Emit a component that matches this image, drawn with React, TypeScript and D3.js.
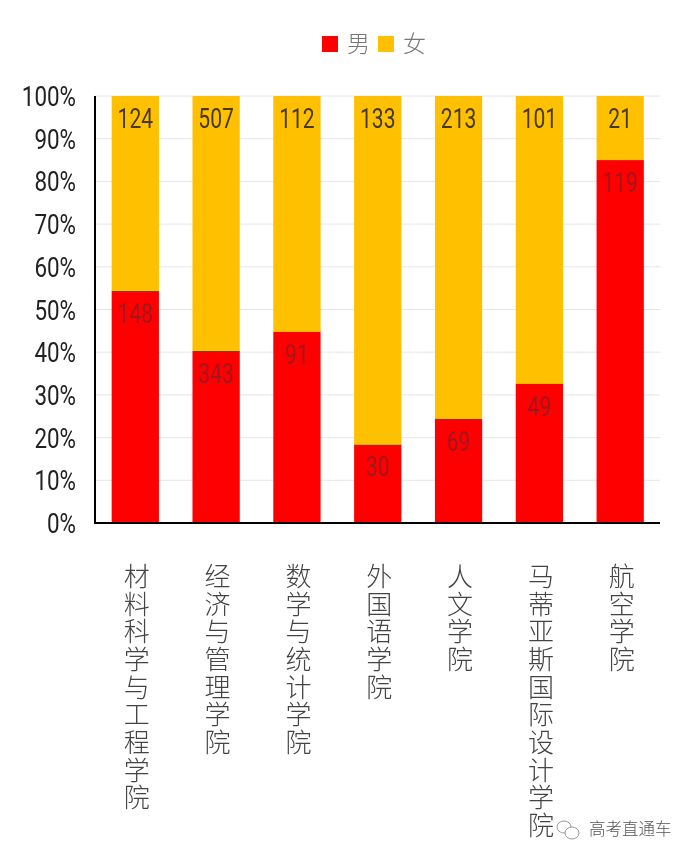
import React from "react";
import * as d3 from "d3";

const categories = ["材料科学与工程学院", "经济与管理学院", "数学与统计学院", "外国语学院", "人文学院", "马蒂亚斯国际设计学院", "航空学院"];
const male = [148, 343, 91, 30, 69, 49, 119];
const female = [124, 507, 112, 133, 213, 101, 21];
const ticks = [0, 10, 20, 30, 40, 50, 60, 70, 80, 90, 100];
const seriesNames = ["男", "女"];
const seriesColors = ["#fe0000", "#ffc000"];
const seriesLabelColors = ["#a5141c", "#47391a"];

const W = 695, H = 861;
const plot = { left: 95, right: 660, top: 96, bottom: 523 };
const cjk = '"Noto Sans CJK SC", sans-serif';
const digits = 'Roboto, sans-serif';

export default function App() {
  const x = d3.scaleBand<string>().domain(categories).range([plot.left + 0.5, plot.right]).paddingInner(0.415).paddingOuter(0.2);
  const y = d3.scaleLinear().domain([0, 100]).range([plot.bottom, plot.top]);
  const rows = categories.map((c, i) => ({ category: c, male: (male[i] / (male[i] + female[i])) * 100, female: (female[i] / (male[i] + female[i])) * 100 }));
  const stack = d3.stack<any>().keys(["male", "female"])(rows);
  const bw = x.bandwidth();
  return (
    <svg width={W} height={H} viewBox={`0 0 ${W} ${H}`} style={{ position: "absolute", left: 0, top: 0, background: "#fff", filter: "blur(0.45px)" }}>
      {ticks.map(t => (
        <line key={t} x1={plot.left} x2={plot.right} y1={y(t)} y2={y(t)} stroke="#e6e6e6" strokeWidth={1} />
      ))}
      {ticks.map(t => (
        <text key={t} transform={`translate(76,${y(t) + 10}) scale(0.8,1)`} textAnchor="end" fontFamily={digits} fontWeight={400} fontSize={28} fill="#222">{t}%</text>
      ))}
      {stack.map((s, si) => (
        <g key={si}>
          {s.map((d, i) => {
            const c = categories[i];
            const top = y(d[1]);
            return (
              <g key={c}>
                <rect x={x(c)} y={top} width={bw} height={y(d[0]) - top} fill={seriesColors[si]} />
                <text transform={`translate(${x(c)! + bw / 2},${top + 32}) scale(0.78,1)`} textAnchor="middle" fontFamily={digits} fontWeight={400} fontSize={27} fill={seriesLabelColors[si]}>
                  {si === 0 ? male[i] : female[i]}
                </text>
              </g>
            );
          })}
        </g>
      ))}
      <line x1={plot.left} x2={plot.left} y1={plot.top} y2={plot.bottom + 1} stroke="#000" strokeWidth={2} />
      <line x1={plot.left} x2={plot.right} y1={plot.bottom} y2={plot.bottom} stroke="#000" strokeWidth={2} />
      {categories.map(c => (
        <text key={c} x={x(c)! + bw / 2 + 1.5} y={563} fontFamily={cjk} fontSize={26} fontWeight={300} fill="#444" letterSpacing={1.7}
          style={{ writingMode: "vertical-rl", textOrientation: "upright" } as any}>
          {c}
        </text>
      ))}
      <rect x={322} y={36} width={16} height={16} fill={seriesColors[0]} />
      <text x={347} y={52} fontFamily={cjk} fontSize={23} fontWeight={300} fill="#777">{seriesNames[0]}</text>
      <rect x={378} y={36} width={16} height={16} fill={seriesColors[1]} />
      <text x={403} y={52} fontFamily={cjk} fontSize={23} fontWeight={300} fill="#777">{seriesNames[1]}</text>
      <g fill="#fff" stroke="#999" strokeWidth={1}>
        <ellipse cx={564} cy={827} rx={7} ry={6} />
        <ellipse cx={572} cy={833} rx={7} ry={6} />
      </g>
      <text x={589} y={835} fontFamily={cjk} fontSize={16.5} fontWeight={300} fill="#555">高考直通车</text>
    </svg>
  );
}
